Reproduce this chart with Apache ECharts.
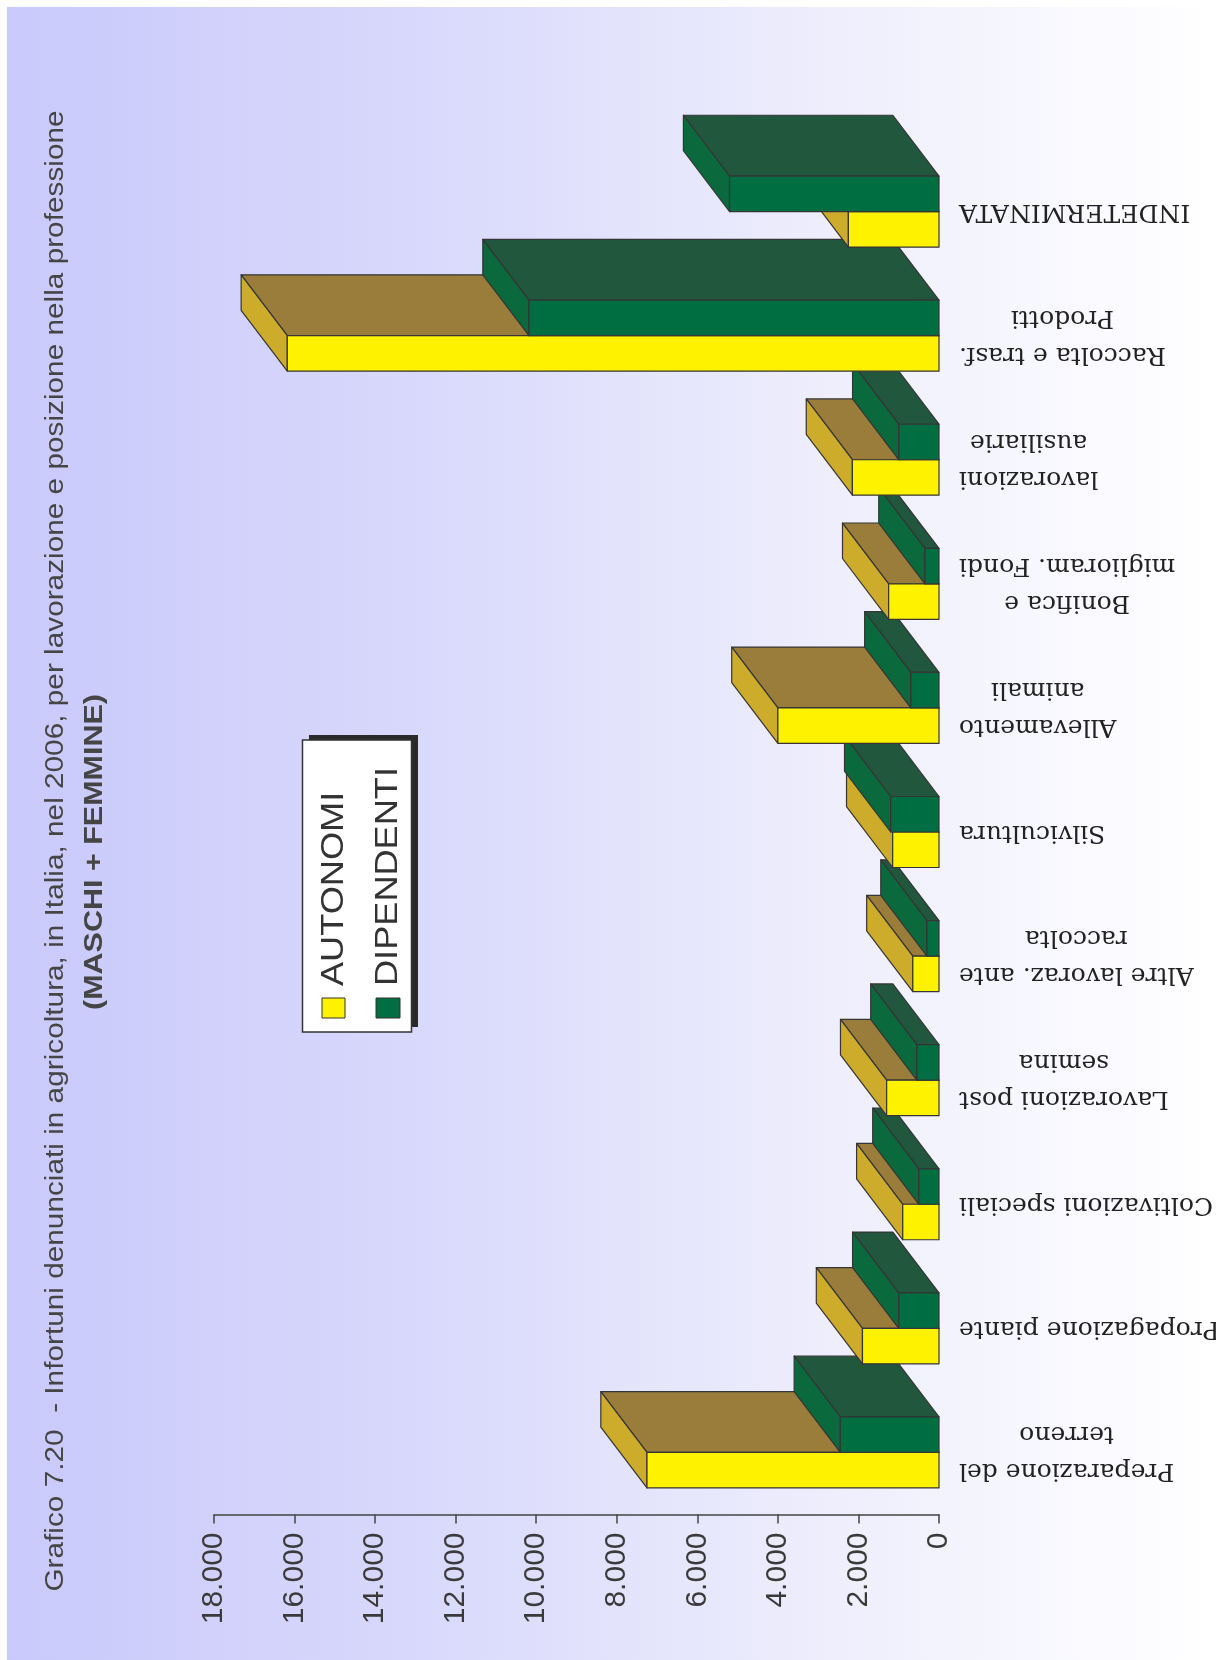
<!DOCTYPE html>
<html>
<head>
<meta charset="utf-8">
<script src="https://cdn.jsdelivr.net/npm/echarts@6/dist/echarts.min.js"></script>
<style>
  html, body { margin: 0; padding: 0; background: #ffffff; }
  #chart { width: 1216px; height: 1660px; }
</style>
</head>
<body>
<div id="chart"></div>
<script>
// Infortuni denunciati in agricoltura, Italia 2006 (maschi + femmine)
const categories = [
  'Preparazione del\nterreno',
  'Propagazione piante',
  'Coltivazioni speciali',
  'Lavorazioni post\nsemina',
  'Altre lavoraz. ante\nraccolta',
  'Silvicultura',
  'Allevamento\nanimali',
  'Bonifica e\nmiglioram. Fondi',
  'lavorazioni\nausiliarie',
  'Raccolta e trasf.\nProdotti',
  'INDETERMINATA'
];
const autonomi   = [7250, 1900, 900, 1300, 650, 1150, 4000, 1250, 2150, 16180, 2250];
const dipendenti = [2450, 1000, 500, 550, 300, 1200, 700, 350, 1000, 10180, 5200];
const seriesNames = ['AUTONOMI', 'DIPENDENTI'];
const titleLine1 = 'Grafico 7.20  - Infortuni denunciati in agricoltura, in Italia, nel 2006, per lavorazione e posizione nella professione';
const titleLine2 = '(MASCHI + FEMMINE)';
const valueMin = 0;
const valueMax = 18000;
const valueStep = 2000;

// face colours: front, value-end face, long side face
const palettes = [
  { front: '#fff200', end: '#ccac2a', side: '#9a7c3b' },
  { front: '#006e40', end: '#0a693d', side: '#20573d' }
];

function thousands(v) {
  return String(v).replace(/\B(?=(\d{3})+(?!\d))/g, '.');
}

// oblique 3D bar: front rectangle plus two visible depth faces
function barRenderer(slot) {
  const pal = palettes[slot];
  return function (params, api) {
    const cat = api.value(0);
    const val = api.value(1);
    const base = api.coord([0, cat]);
    const tip = api.coord([val, cat]);
    const band = api.size([0, 1])[1];
    const thick = band * 0.286;
    const dx = -band * 0.372;
    const dy = -band * 0.49;
    const yTop = slot === 0 ? base[1] : base[1] - thick;
    const yBot = yTop + thick;
    const xl = tip[0];
    const xr = base[0];
    const line = { stroke: '#353535', lineWidth: 1.2, lineJoin: 'round' };
    const z = cat * 10 + slot * 5;
    return {
      type: 'group',
      children: [
        { type: 'polygon', z2: z,
          shape: { points: [[xl, yTop], [xr, yTop], [xr + dx, yTop + dy], [xl + dx, yTop + dy]] },
          style: Object.assign({ fill: pal.side }, line) },
        { type: 'polygon', z2: z + 1,
          shape: { points: [[xl, yTop], [xl, yBot], [xl + dx, yBot + dy], [xl + dx, yTop + dy]] },
          style: Object.assign({ fill: pal.end }, line) },
        { type: 'rect', z2: z + 2,
          shape: { x: xl, y: yTop, width: xr - xl, height: thick },
          style: Object.assign({ fill: pal.front }, line) }
      ]
    };
  };
}

const chart = echarts.init(document.getElementById('chart'), null, { renderer: 'canvas' });

const option = {
  animation: false,
  grid: {
    left: 214, right: 277, top: 149.5, bottom: 145.5,
    containLabel: false, outerBoundsMode: 'none'
  },
  xAxis: {
    type: 'value',
    inverse: true,
    position: 'bottom',
    min: valueMin,
    max: valueMax,
    interval: valueStep,
    splitLine: { show: false },
    axisLine: { show: true, lineStyle: { color: '#444', width: 1.5 } },
    axisTick: { show: true, length: 9, lineStyle: { color: '#444', width: 1.5 } },
    axisLabel: {
      rotate: 90,
      margin: 18,
      fontFamily: '"Liberation Sans", Arial, sans-serif',
      fontSize: 30,
      color: '#3a3a3a',
      formatter: thousands
    }
  },
  yAxis: {
    type: 'category',
    position: 'right',
    data: categories,
    axisLine: { show: false },
    axisTick: { show: false },
    splitLine: { show: false },
    axisLabel: {
      interval: 0,
      rotate: 180,
      margin: 20,
      color: '#222',
      formatter: function (v) {
        return v.split('\n').map(function (s) { return '{c|' + s + '}'; }).join('\n');
      },
      rich: {
        c: {
          align: 'center',
          fontFamily: '"DejaVu Serif", serif',
          fontSize: 25,
          lineHeight: 37,
          color: '#222'
        }
      }
    }
  },
  series: [
    {
      name: seriesNames[0],
      type: 'custom',
      clip: false,
      renderItem: barRenderer(0),
      encode: { x: 1, y: 0 },
      data: autonomi.map(function (v, i) { return [i, v]; })
    },
    {
      name: seriesNames[1],
      type: 'custom',
      clip: false,
      renderItem: barRenderer(1),
      encode: { x: 1, y: 0 },
      data: dipendenti.map(function (v, i) { return [i, v]; })
    }
  ],
  graphic: [
    {
      type: 'rect', z: -10, silent: true,
      shape: { x: 7, y: 7, width: 1209, height: 1653 },
      style: {
        fill: new echarts.graphic.LinearGradient(0, 0, 1, 0, [
          { offset: 0, color: '#c9c9fb' },
          { offset: 0.35, color: '#d9d9fc' },
          { offset: 0.65, color: '#ececfc' },
          { offset: 0.9, color: '#fafaff' },
          { offset: 1, color: '#ffffff' }
        ])
      }
    },
    {
      type: 'text', z: 5, x: 56, y: 851, rotation: Math.PI / 2, scaleX: 1.145,
      style: {
        text: titleLine1, align: 'center', verticalAlign: 'middle',
        fontFamily: '"Liberation Sans", Arial, sans-serif', fontSize: 26, fill: '#454545'
      }
    },
    {
      type: 'text', z: 5, x: 95, y: 852, rotation: Math.PI / 2, scaleX: 1.22,
      style: {
        text: titleLine2, align: 'center', verticalAlign: 'middle',
        fontFamily: '"Liberation Sans", Arial, sans-serif', fontSize: 25, fontWeight: 'bold', fill: '#454545'
      }
    },
    // legend box with drop shadow
    { type: 'rect', z: 5, shape: { x: 309, y: 735, width: 109, height: 292 }, style: { fill: '#2a2a2a' } },
    { type: 'rect', z: 6, shape: { x: 302.5, y: 740, width: 109, height: 292 },
      style: { fill: '#ffffff', stroke: '#333', lineWidth: 1.5 } },
    { type: 'rect', z: 7, shape: { x: 322, y: 998, width: 23, height: 20 },
      style: { fill: palettes[0].front, stroke: '#333', lineWidth: 1 } },
    { type: 'rect', z: 7, shape: { x: 376, y: 998, width: 24, height: 20 },
      style: { fill: palettes[1].front, stroke: '#333', lineWidth: 1 } },
    {
      type: 'text', z: 7, x: 334, y: 986, rotation: Math.PI / 2, scaleX: 1.13,
      style: {
        text: seriesNames[0], align: 'left', verticalAlign: 'middle',
        fontFamily: '"Liberation Sans", Arial, sans-serif', fontSize: 32, fill: '#333'
      }
    },
    {
      type: 'text', z: 7, x: 388, y: 986, rotation: Math.PI / 2, scaleX: 1.13,
      style: {
        text: seriesNames[1], align: 'left', verticalAlign: 'middle',
        fontFamily: '"Liberation Sans", Arial, sans-serif', fontSize: 32, fill: '#333'
      }
    }
  ]
};

chart.setOption(option);
</script>
</body>
</html>
